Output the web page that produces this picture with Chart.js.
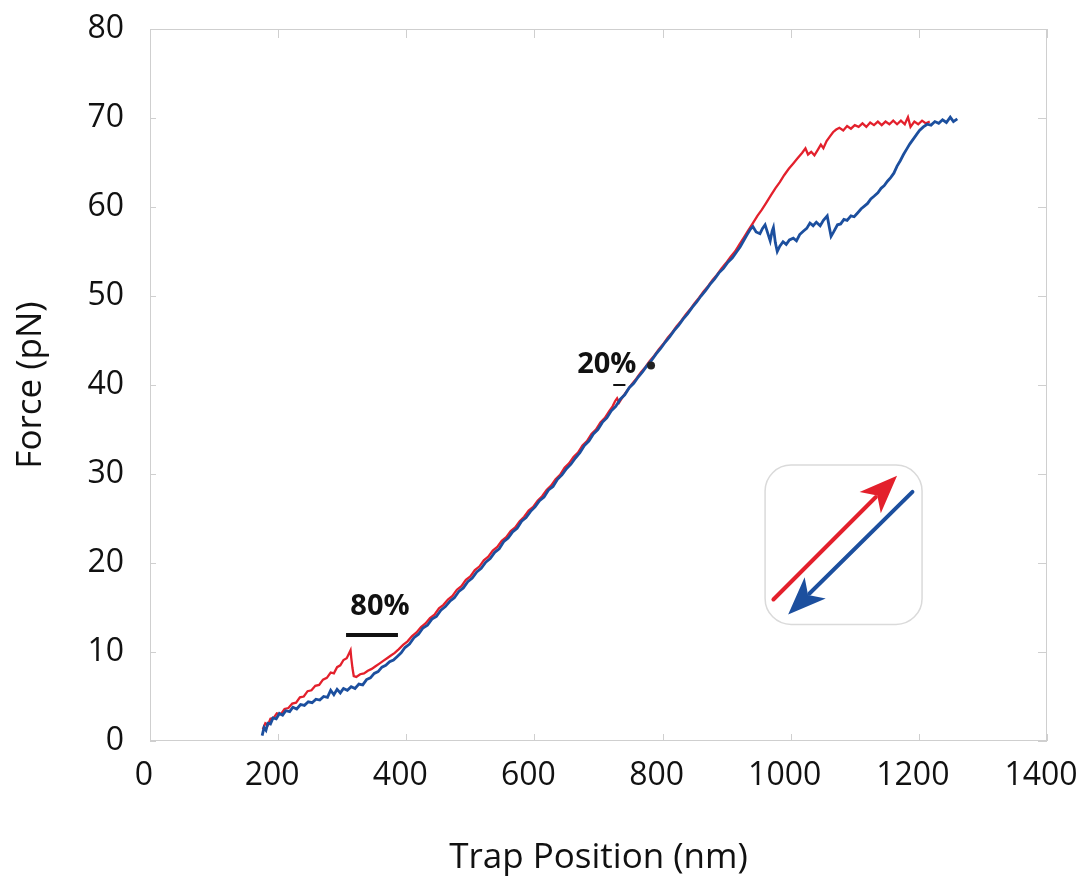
<!DOCTYPE html>
<html>
<head>
<meta charset="utf-8">
<script src="https://cdn.jsdelivr.net/npm/chart.js@4.4.1/dist/chart.umd.min.js"></script>
<style>
  html, body { margin: 0; padding: 0; background: #fff; }
  #wrap { width: 1082px; height: 888px; position: relative; }
</style>
</head>
<body>
<div id="wrap"><canvas id="fd-chart" width="1082" height="888"></canvas></div>
<script>
// Ejes
var xTicks = [0, 200, 400, 600, 800, 1000, 1200, 1400];
var yTicks = [0, 10, 20, 30, 40, 50, 60, 70, 80];

// Curva de estiramiento (roja): posición de la trampa (nm) y fuerza (pN)
var stretchPos = [176, 180, 184, 188, 193, 198, 204, 210, 216, 222, 228, 234, 240, 246, 252, 258, 264, 270, 276, 282,
  287, 292, 297, 302, 307, 311, 313, 314, 316, 318, 322, 328, 334, 340, 346, 352, 358, 364, 370, 376,
  382, 388, 395, 402, 409, 416, 423, 430, 437, 444, 451, 458, 465, 472, 479, 486, 493, 500, 507, 514,
  521, 528, 535, 542, 549, 556, 563, 570, 577, 584, 591, 598, 605, 612, 619, 626, 633, 640, 647, 654,
  661, 668, 675, 682, 689, 696, 703, 710, 717, 722, 726, 729, 732, 738, 745, 752, 759, 766, 773, 780,
  787, 794, 801, 808, 815, 822, 829, 836, 843, 850, 857, 864, 871, 878, 885, 892, 899, 906, 913, 920,
  927, 934, 941, 948, 955, 962, 969, 976, 983, 990, 997, 1004, 1011, 1018, 1023, 1027, 1032, 1037, 1042, 1047,
  1051, 1056, 1061, 1066, 1071, 1076, 1082, 1088, 1094, 1100, 1106, 1112, 1118, 1124, 1130, 1136, 1142, 1148, 1154, 1160,
  1166, 1172, 1178, 1183, 1187, 1193, 1199, 1205, 1211, 1217];
var stretchForce = [1.3, 2.0, 1.8, 2.5, 2.6, 3.1, 3.0, 3.6, 3.7, 4.2, 4.3, 4.9, 5.0, 5.6, 5.7, 6.2, 6.3, 6.9, 7.1, 7.7,
  7.6, 8.3, 8.5, 9.1, 9.3, 9.9, 10.2, 9.4, 8.2, 7.3, 7.2, 7.5, 7.6, 7.9, 8.1, 8.4, 8.7, 9.0, 9.3, 9.6,
  9.9, 10.3, 10.8, 11.2, 11.8, 12.2, 12.8, 13.2, 13.8, 14.2, 14.9, 15.3, 15.9, 16.3, 17.0, 17.4, 18.1, 18.5, 19.2, 19.6,
  20.3, 20.7, 21.4, 21.8, 22.5, 22.9, 23.6, 24.0, 24.7, 25.2, 25.9, 26.3, 27.0, 27.5, 28.2, 28.7, 29.4, 29.9, 30.7, 31.2,
  31.9, 32.4, 33.2, 33.7, 34.5, 35.0, 35.8, 36.3, 37.1, 37.6, 38.2, 38.5, 38.0, 38.7, 39.4, 40.1, 40.7, 41.4, 42.0, 42.7,
  43.3, 44.0, 44.6, 45.3, 45.9, 46.6, 47.2, 47.9, 48.5, 49.2, 49.8, 50.5, 51.1, 51.8, 52.4, 53.1, 53.7, 54.4, 55.0, 55.8,
  56.6, 57.4, 58.2, 59.0, 59.7, 60.5, 61.3, 62.1, 62.8, 63.6, 64.3, 64.9, 65.5, 66.1, 66.6, 65.9, 66.2, 65.8, 66.4, 67.0,
  66.6, 67.4, 67.9, 68.4, 68.7, 68.9, 68.6, 69.1, 68.8, 69.2, 69.0, 69.4, 69.0, 69.5, 69.2, 69.6, 69.2, 69.6, 69.3, 69.7,
  69.3, 69.7, 69.3, 70.1, 69.0, 69.6, 69.3, 69.7, 69.4, 69.6];

// Curva de relajación (azul)
var relaxPos = [175, 178, 181, 184, 188, 192, 197, 202, 207, 212, 218, 223, 229, 235, 241, 247, 253, 259, 265, 271,
  277, 282, 287, 292, 297, 302, 308, 314, 320, 326, 332, 338, 344, 350, 356, 362, 368, 374, 380, 386,
  392, 398, 405, 412, 419, 426, 433, 440, 447, 454, 461, 468, 475, 482, 489, 496, 503, 510, 517, 524,
  531, 538, 545, 552, 559, 566, 573, 580, 587, 594, 601, 608, 615, 622, 629, 636, 643, 650, 657, 664,
  671, 678, 685, 692, 699, 706, 713, 720, 727, 734, 741, 748, 755, 762, 769, 776, 783, 790, 797, 804,
  811, 818, 825, 832, 839, 846, 853, 860, 867, 874, 881, 888, 895, 902, 909, 916, 921, 928, 932, 937,
  941, 946, 952, 956, 960, 964, 968, 971, 973, 976, 979, 983, 988, 993, 998, 1004, 1009, 1014, 1020, 1025,
  1030, 1035, 1040, 1046, 1051, 1057, 1060, 1063, 1067, 1073, 1078, 1083, 1088, 1094, 1099, 1104, 1110, 1115, 1120, 1125,
  1130, 1136, 1141, 1146, 1151, 1156, 1161, 1166, 1171, 1176, 1181, 1186, 1191, 1196, 1201, 1207, 1213, 1219, 1225, 1231,
  1237, 1243, 1249, 1254, 1260];
var relaxForce = [0.6, 1.5, 1.2, 2.0, 1.9, 2.6, 2.5, 3.1, 2.9, 3.4, 3.3, 3.8, 3.6, 4.1, 4.0, 4.4, 4.3, 4.7, 4.6, 5.0,
  4.9, 5.7, 5.2, 5.8, 5.4, 5.9, 5.7, 6.1, 5.9, 6.4, 6.3, 6.9, 7.1, 7.6, 7.8, 8.3, 8.5, 8.9, 9.1, 9.5,
  9.9, 10.5, 10.9, 11.6, 12.0, 12.7, 13.0, 13.7, 14.0, 14.7, 15.1, 15.7, 16.1, 16.8, 17.2, 17.9, 18.3, 19.0, 19.4, 20.1,
  20.5, 21.2, 21.6, 22.4, 22.8, 23.5, 23.9, 24.7, 25.1, 25.8, 26.3, 27.0, 27.4, 28.2, 28.6, 29.4, 29.9, 30.6, 31.1, 31.8,
  32.4, 33.2, 33.7, 34.5, 35.0, 35.8, 36.3, 37.1, 37.6, 38.4, 38.9, 39.7, 40.2, 40.9, 41.5, 42.2, 42.8, 43.5, 44.1, 44.8,
  45.4, 46.1, 46.7, 47.4, 48.0, 48.7, 49.3, 50.0, 50.6, 51.3, 51.9, 52.6, 53.1, 53.8, 54.3, 55.0, 55.5, 56.4, 56.9, 57.5,
  57.8, 57.2, 57.0, 57.6, 58.0, 57.1, 56.2, 57.3, 57.7, 56.0, 55.0, 55.6, 56.1, 55.8, 56.3, 56.5, 56.2, 56.9, 57.3, 57.6,
  58.2, 57.9, 58.3, 57.9, 58.5, 59.0, 57.8, 56.7, 57.2, 58.0, 58.1, 58.6, 58.5, 59.0, 58.9, 59.3, 59.8, 60.1, 60.4, 60.9,
  61.2, 61.6, 62.1, 62.4, 62.9, 63.3, 63.8, 64.6, 65.2, 65.9, 66.5, 67.1, 67.6, 68.1, 68.6, 69.0, 69.3, 69.2, 69.6, 69.4,
  69.8, 69.5, 70.1, 69.6, 69.9];

// Anotaciones
var notes = [
  { text: '80%', x: 359, y: 15.1 },
  { text: '20%', x: 713, y: 42.3 }
];

var stretchColor = '#e3202c';
var relaxColor = '#1c4f9e';

function toPoints(xs, ys) {
  return xs.map(function(x, i) { return { x: x, y: ys[i] }; });
}

// Marco gris con marcas interiores, anotaciones y recuadro de flechas
var framePlugin = {
  id: 'frame',
  beforeDatasetsDraw: function(chart) {
    var ctx = chart.ctx, a = chart.chartArea;
    var xs = chart.scales.x, ys = chart.scales.y;
    ctx.save();
    ctx.strokeStyle = '#cfcfcf';
    ctx.lineWidth = 1;
    ctx.strokeRect(a.left + 0.5, a.top + 0.5, a.right - a.left - 1, a.bottom - a.top - 1);
    ctx.beginPath();
    xTicks.forEach(function(v) {
      var px = Math.round(xs.getPixelForValue(v)) + 0.5;
      ctx.moveTo(px, a.top); ctx.lineTo(px, a.top + 9);
      ctx.moveTo(px, a.bottom); ctx.lineTo(px, a.bottom - 7);
    });
    yTicks.forEach(function(v) {
      var py = Math.round(ys.getPixelForValue(v)) + 0.5;
      ctx.moveTo(a.right, py); ctx.lineTo(a.right - 9, py);
      ctx.moveTo(a.left, py); ctx.lineTo(a.left + 6, py);
    });
    ctx.stroke();
    ctx.restore();
  },
  afterDatasetsDraw: function(chart) {
    var ctx = chart.ctx;
    var xs = chart.scales.x, ys = chart.scales.y;
    function X(v) { return xs.getPixelForValue(v); }
    function Y(v) { return ys.getPixelForValue(v); }
    ctx.save();

    // textos 80% y 20%
    ctx.fillStyle = '#111';
    ctx.font = 'bold 29px "Open Sans", "Noto Sans", sans-serif';
    ctx.textAlign = 'center';
    ctx.textBaseline = 'middle';
    notes.forEach(function(n) { ctx.fillText(n.text, X(n.x), Y(n.y)); });

    // barra bajo 80%
    ctx.strokeStyle = '#111';
    ctx.lineWidth = 4;
    ctx.beginPath();
    ctx.moveTo(X(306), Y(11.9)); ctx.lineTo(X(387), Y(11.9));
    ctx.stroke();
    // guion bajo 20%
    ctx.lineWidth = 2;
    ctx.beginPath();
    ctx.moveTo(X(723), Y(40.0)); ctx.lineTo(X(742), Y(40.0));
    ctx.stroke();
    // punto tras 20%
    ctx.fillStyle = '#222';
    ctx.beginPath();
    ctx.arc(X(782), Y(42.2), 4, 0, Math.PI * 2);
    ctx.fill();

    // recuadro con flechas
    var bx0 = X(960), bx1 = X(1205), by0 = Y(31.0), by1 = Y(13.1);
    ctx.strokeStyle = '#dadada';
    ctx.lineWidth = 1.5;
    ctx.beginPath();
    ctx.roundRect(bx0, by0, bx1 - bx0, by1 - by0, 26);
    ctx.stroke();

    drawArrow(ctx, X(973), Y(15.9), X(1166), Y(29.8), stretchColor);
    drawArrow(ctx, X(1190), Y(28.0), X(996), Y(14.2), relaxColor);
    ctx.restore();
  }
};

function drawArrow(ctx, x0, y0, x1, y1, color) {
  var ang = Math.atan2(y1 - y0, x1 - x0);
  var headLen = 38, headW = 15;
  var bx = x1 - headLen * Math.cos(ang), by = y1 - headLen * Math.sin(ang);
  ctx.strokeStyle = color;
  ctx.fillStyle = color;
  ctx.lineWidth = 4;
  ctx.lineCap = 'round';
  ctx.beginPath();
  ctx.moveTo(x0, y0);
  ctx.lineTo(bx + 8 * Math.cos(ang), by + 8 * Math.sin(ang));
  ctx.stroke();
  ctx.beginPath();
  ctx.moveTo(x1, y1);
  ctx.lineTo(bx + headW * Math.sin(ang), by - headW * Math.cos(ang));
  ctx.lineTo(bx + 10 * Math.cos(ang), by + 10 * Math.sin(ang));
  ctx.lineTo(bx - headW * Math.sin(ang), by + headW * Math.cos(ang));
  ctx.closePath();
  ctx.fill();
}

var tickFont = { family: '"Open Sans", "Noto Sans", sans-serif', size: 32 };
var titleFont = { family: '"Open Sans", "Noto Sans", sans-serif', size: 35 };
function plainLabel(v) { return String(v); }

new Chart(document.getElementById('fd-chart'), {
  type: 'scatter',
  data: {
    datasets: [{
      label: 'Relajación',
      data: toPoints(relaxPos, relaxForce),
      showLine: true,
      borderColor: relaxColor,
      borderWidth: 2.8,
      pointRadius: 0,
      tension: 0
    }, {
      label: 'Estiramiento',
      data: toPoints(stretchPos, stretchForce),
      showLine: true,
      borderColor: stretchColor,
      borderWidth: 2.3,
      pointRadius: 0,
      tension: 0
    }]
  },
  options: {
    responsive: false,
    animation: false,
    layout: { padding: { top: 29, right: 35, left: 0, bottom: 0 } },
    plugins: { legend: { display: false }, tooltip: { enabled: false } },
    scales: {
      x: {
        type: 'linear', min: 0, max: 1400,
        afterFit: function(s) { s.height = 147; s.paddingLeft = 0; s.paddingRight = 0; },
        afterBuildTicks: function(s) { s.ticks = xTicks.map(function(v) { return { value: v }; }); },
        grid: { display: false, drawTicks: false },
        border: { display: false },
        ticks: { font: tickFont, color: '#111', padding: 16, maxRotation: 0, labelOffset: -6, callback: plainLabel },
        title: { display: true, text: 'Trap Position (nm)', font: titleFont, color: '#111', padding: { top: 0, bottom: 9 } }
      },
      y: {
        type: 'linear', min: 0, max: 80,
        afterFit: function(s) { s.width = 150; s.paddingTop = 0; s.paddingBottom = 0; },
        afterBuildTicks: function(s) { s.ticks = yTicks.map(function(v) { return { value: v }; }); },
        grid: { display: false, drawTicks: false },
        border: { display: false },
        ticks: { font: tickFont, color: '#111', padding: 26, callback: plainLabel },
        title: { display: true, text: 'Force (pN)', font: titleFont, color: '#111', padding: { top: 10, bottom: 0 } }
      }
    }
  },
  plugins: [framePlugin]
});
</script>
</body>
</html>
